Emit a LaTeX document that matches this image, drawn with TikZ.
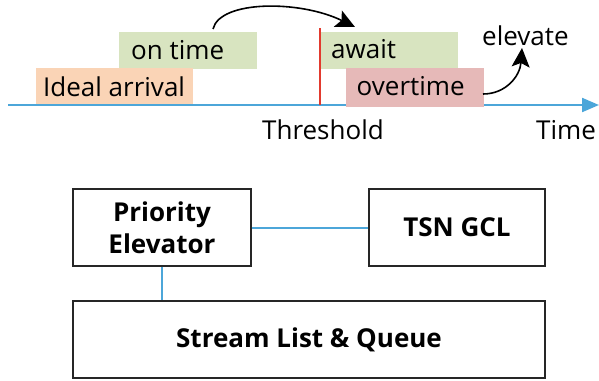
\documentclass[tikz,border=0pt]{standalone}
\usepackage{fontspec}
\setmainfont{Open Sans}
\usetikzlibrary{arrows.meta,calc}
\definecolor{tlblue}{HTML}{4CA6D9}
\definecolor{boxgreen}{HTML}{D8E4C0}
\definecolor{boxpeach}{HTML}{FAD4B6}
\definecolor{boxpink}{HTML}{E6B9B8}
\definecolor{thred}{HTML}{E23A2E}
\tikzset{
  lbl/.style={font=\fontsize{26}{30}\selectfont, inner sep=0pt, anchor=base west},
  blk/.style={draw=black!85, line width=1.4pt, align=center, inner sep=0pt,
    font=\fontsize{26}{32}\selectfont\bfseries},
  link/.style={draw=tlblue, line width=2pt},
  curvearrow/.style={draw=black, line width=1.6pt, -{Stealth[length=19pt,width=18pt,inset=4pt]}}
}
\begin{document}
\begin{tikzpicture}[x=1pt,y=-1pt]
\useasboundingbox (0,0) rectangle (599,380);
% timeline
\coordinate (t0) at (8,105);
\coordinate (t1) at (599,105);
\draw[tlblue, line width=2.2pt, -{Triangle[length=17pt,width=14pt]}] (t0) -- (t1);
% boxes
\node[fill=boxgreen, minimum width=138pt, minimum height=37pt, inner sep=0pt] (ontimebox) at (188,50.5) {};
\node[fill=boxpeach, minimum width=157pt, minimum height=36pt, inner sep=0pt] (idealbox) at (114.5,86) {};
\node[fill=boxgreen, minimum width=137pt, minimum height=37pt, inner sep=0pt] (awaitbox) at (389.5,50.5) {};
\node[fill=boxpink, minimum width=138pt, minimum height=38.5pt, inner sep=0pt] (overbox) at (415,87.25) {};
% texts
\node[lbl] (ontime) at (131,59) {on time};
\node[lbl] (ideal) at (43,96.7) {Ideal arrival};
\node[lbl] (await) at (331,58.3) {await};
\node[lbl] (overtime) at (356.5,95) {overtime};
\node[lbl] (elevate) at (482,45.7) {elevate};
\node[lbl] (threshold) at (262,139.5) {Threshold};
\node[lbl] (time) at (536,139.5) {Time};
% threshold
\coordinate (r0) at (320,28);
\coordinate (r1) at (320,105);
\draw[thred, line width=2.4pt] (r0) -- (r1);
% arrows
\coordinate (a0) at (213,29);
\coordinate (a1) at (355,27);
\draw[curvearrow] (a0) .. controls (220,0) and (300,0) .. (a1);
\coordinate (e0) at (483,94);
\coordinate (e1) at (522,48);
\draw[curvearrow] (e0) .. controls (506,94) and (520,76) .. (e1);
% bottom blocks
\node[blk, minimum width=178pt, minimum height=77pt] (pe) at (162,227.5) {Priority\\Elevator};
\node[blk, minimum width=176pt, minimum height=77pt] (tsn) at (457,227.5) {TSN GCL};
\node[blk, minimum width=472pt, minimum height=77pt] (slq) at (309,339.5) {Stream List \& Queue};
\draw[link] (pe.east) -- (tsn.west);
\draw[link] (pe.south) -- (pe.south |- slq.north);
\end{tikzpicture}
\end{document}
